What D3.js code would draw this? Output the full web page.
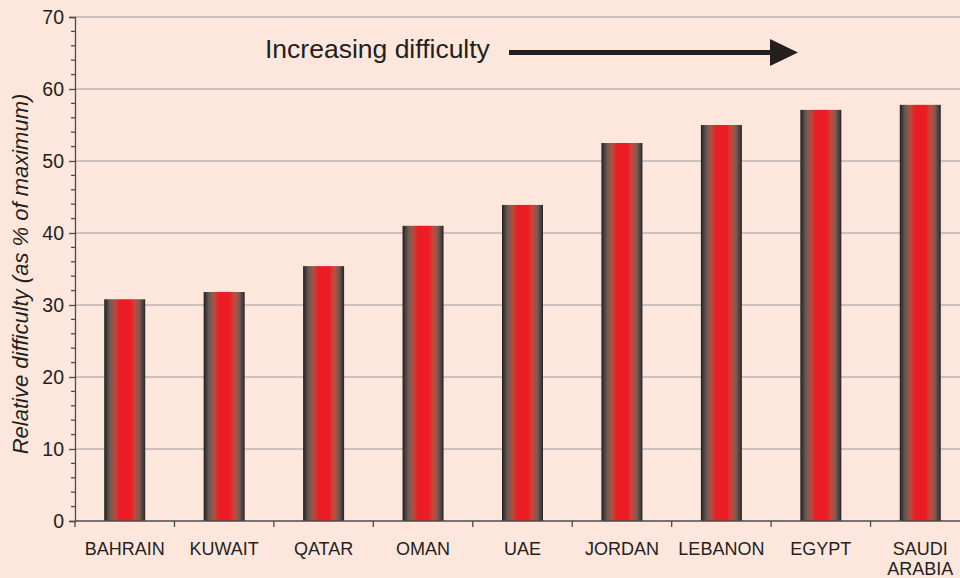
<!DOCTYPE html>
<html>
<head>
<meta charset="utf-8">
<script src="https://cdn.jsdelivr.net/npm/d3@7"></script>
<style>
  html, body { margin: 0; padding: 0; background: #fde7dd; }
  svg { display: block; font-family: "Liberation Sans", Arial, sans-serif; }
</style>
</head>
<body>
<svg id="chart" width="960" height="578"></svg>
<script>
// Relative difficulty by country, as % of maximum
const countries = ["BAHRAIN", "KUWAIT", "QATAR", "OMAN", "UAE", "JORDAN", "LEBANON", "EGYPT", "SAUDI ARABIA"];
const difficulty = [30.8, 31.8, 35.4, 41.0, 43.9, 52.5, 55.0, 57.1, 57.8];
const yTicks = [0, 10, 20, 30, 40, 50, 60, 70];
const yMinorTicks = d3.range(0, 70, 2);

const svg = d3.select("#chart");
const margin = { left: 75, top: 17, bottom: 57 };
const plotRight = 970;
const height = 578;

const x = d3.scaleBand()
  .domain(countries)
  .range([margin.left, plotRight])
  .paddingInner(0).paddingOuter(0);

const y = d3.scaleLinear()
  .domain([0, 70])
  .range([height - margin.bottom, margin.top]);

// Horizontal gradient for the bars: dark edges, red core
const defs = svg.append("defs");
const grad = defs.append("linearGradient")
  .attr("id", "barGrad")
  .attr("x1", "0%").attr("x2", "100%").attr("y1", "0%").attr("y2", "0%");
[
  [0, "#1e1b1c"], [0.05, "#3e3939"], [0.14, "#6e5a53"], [0.26, "#b84c3e"],
  [0.37, "#ec1c24"], [0.63, "#ec1c24"], [0.74, "#c44a3c"], [0.86, "#7a5b52"],
  [0.95, "#453e3e"], [1, "#262223"]
].forEach(([o, c]) => grad.append("stop").attr("offset", o).attr("stop-color", c));

// Gridlines
svg.append("g")
  .selectAll("line")
  .data(yTicks.filter(d => d > 0))
  .join("line")
  .attr("x1", margin.left).attr("x2", plotRight)
  .attr("y1", d => y(d)).attr("y2", d => y(d))
  .attr("stroke", "#9a9a9e").attr("stroke-width", 1);

// Bars
const barW = 41;
svg.append("g")
  .selectAll("rect")
  .data(countries.map((c, i) => ({ c, v: difficulty[i] })))
  .join("rect")
  .attr("x", d => x(d.c) + x.bandwidth() / 2 - barW / 2)
  .attr("width", barW)
  .attr("y", d => y(d.v))
  .attr("height", d => y(0) - y(d.v))
  .attr("fill", "url(#barGrad)");

// Y axis with major and minor ticks
const yAxis = svg.append("g")
  .attr("transform", `translate(${margin.left},0)`)
  .call(d3.axisLeft(y).tickValues(yTicks).tickSize(6).tickPadding(5).tickFormat(d3.format("d")));
yAxis.select(".domain").attr("stroke", "#4a4a4a").attr("stroke-width", 1.3);
yAxis.selectAll(".tick line").attr("stroke", "#4a4a4a").attr("stroke-width", 1.3);
yAxis.selectAll(".tick text").attr("font-size", 19.5).attr("fill", "#231f20")
  .attr("font-family", "Liberation Sans, Arial, sans-serif");

svg.append("g")
  .selectAll("line")
  .data(yMinorTicks.filter(d => d % 10 !== 0))
  .join("line")
  .attr("x1", margin.left - 4).attr("x2", margin.left)
  .attr("y1", d => y(d)).attr("y2", d => y(d))
  .attr("stroke", "#4a4a4a").attr("stroke-width", 1.3);

// X axis: baseline with ticks between categories
const xBoundaries = d3.range(countries.length + 1).map(i => margin.left + i * x.bandwidth());
svg.append("line")
  .attr("x1", margin.left).attr("x2", plotRight)
  .attr("y1", y(0)).attr("y2", y(0))
  .attr("stroke", "#4a4a4a").attr("stroke-width", 1.3);
svg.append("g")
  .selectAll("line")
  .data(xBoundaries)
  .join("line")
  .attr("x1", d => d).attr("x2", d => d)
  .attr("y1", y(0)).attr("y2", y(0) + 6)
  .attr("stroke", "#4a4a4a").attr("stroke-width", 1.3);

// Category labels (multi-word names wrap onto two lines)
const labels = svg.append("g")
  .selectAll("text")
  .data(countries)
  .join("text")
  .attr("x", d => x(d) + x.bandwidth() / 2)
  .attr("y", y(0) + 34)
  .attr("text-anchor", "middle")
  .attr("font-size", 18)
  .attr("fill", "#231f20");
labels.each(function(d) {
  const words = d.split(" ");
  const t = d3.select(this);
  words.forEach((w, i) => {
    t.append("tspan")
      .attr("x", x(d) + x.bandwidth() / 2)
      .attr("dy", i === 0 ? 0 : 19.5)
      .text(w);
  });
});

// Y axis title
svg.append("text")
  .attr("transform", `translate(28,${(y(0) + y(70)) / 2 + 5}) rotate(-90)`)
  .attr("text-anchor", "middle")
  .attr("font-size", 22)
  .attr("font-style", "italic")
  .attr("fill", "#231f20")
  .text("Relative difficulty (as % of maximum)");

// Annotation: increasing difficulty arrow
svg.append("text")
  .attr("x", 265).attr("y", 58)
  .attr("font-size", 26.5)
  .attr("fill", "#231f20")
  .text("Increasing difficulty");
svg.append("line")
  .attr("x1", 509).attr("x2", 772)
  .attr("y1", 52.5).attr("y2", 52.5)
  .attr("stroke", "#231f20").attr("stroke-width", 5);
svg.append("path")
  .attr("d", "M770,39 L798,52.5 L770,66 Z")
  .attr("fill", "#231f20");
</script>
</body>
</html>
